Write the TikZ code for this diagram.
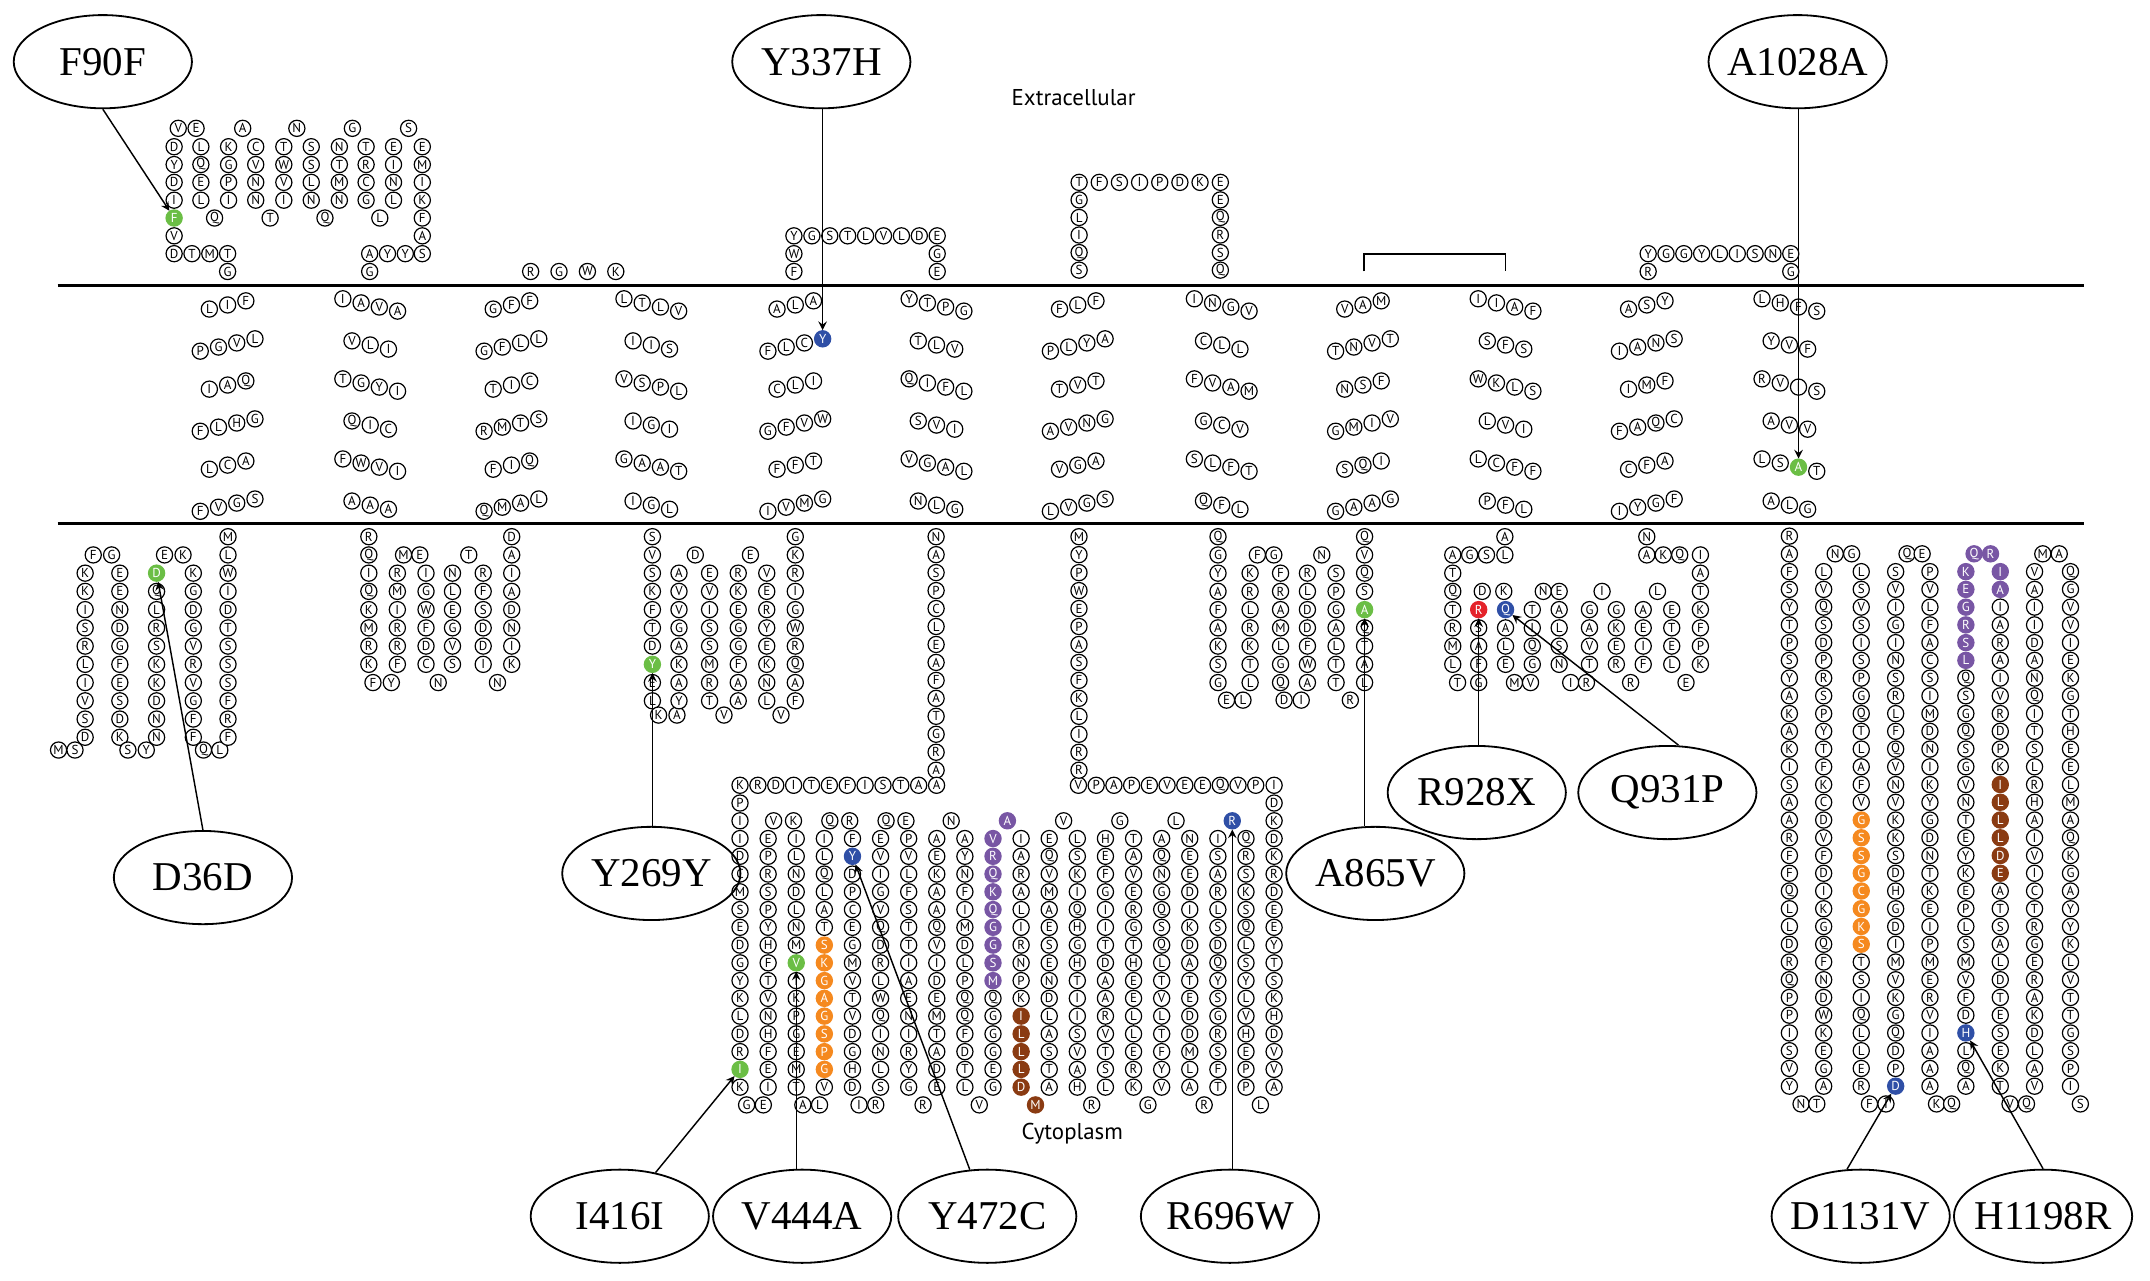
\documentclass[tikz,border=0pt]{standalone}
\usepackage{fontspec}
\setmainfont{Liberation Serif}
\setsansfont{PT Sans}
\usetikzlibrary{shapes.geometric,calc}
\definecolor{mgreen}{HTML}{6BBE45}
\definecolor{mblue}{HTML}{2F4FA6}
\definecolor{mred}{HTML}{E4232A}
\definecolor{morange}{HTML}{F5891F}
\definecolor{mpurple}{HTML}{7856A4}
\definecolor{mbrown}{HTML}{8A3B12}
\newcommand{\resfont}{\sffamily\fontsize{5.4}{5.4}\selectfont}
\newcount\tmn
% a line of residues: [style]{name}{x0}{y0}{dx}{dy}{letters}, "-" leaves a gap
\newcommand{\resline}[7][]{%
  \foreach \l [count=\i from 0] in {#7}{%
    \if\l-\else\node[res,#1] (#2-\i) at ({#3+\i*(#5)},{#4+\i*(#6)}) {\l};\fi}}
% one slanted row of a helix: {name}{centre x}{y}{slant}{letters}
\newcommand{\tmrow}[5]{%
  \global\tmn=0
  \foreach \l in {#5}{\global\advance\tmn by 1}%
  \pgfmathsetmacro\tmh{(\the\tmn-1)/2}%
  \resline{#1}{#2-\tmh*13.3}{#3-(#4)*\tmh*3}{13.3}{(#4)*3}{#5}}
\newcommand{\helix}[9]{%
  \tmrow{#1a}{#2}{222.4}{#3}{#4}\tmrow{#1b}{#2}{251.6}{#3}{#5}%
  \tmrow{#1c}{#2}{280.8}{#3}{#6}\tmrow{#1d}{#2}{310.0}{#3}{#7}%
  \tmrow{#1e}{#2}{339.2}{#3}{#8}\tmrow{#1f}{#2}{368.4}{#3}{#9}}
\begin{document}
\begin{tikzpicture}[x=0.02cm,y=-0.02cm,>=stealth,
    res/.style={circle,draw,line width=0.5pt,fill=white,inner sep=0pt,minimum size=0.236cm,font=\resfont},
    hl/.style={res,draw=#1,fill=#1,text=white},
    mut/.style={ellipse,draw,line width=0.75pt,minimum width=2.6cm,minimum height=1.36cm,
      inner xsep=-6pt,inner ysep=0pt,font=\fontsize{17}{17}\selectfont}]
  \useasboundingbox (0,0) rectangle (1568,934.2);
  % membrane
  \draw[line width=1.1pt] (42,208) -- (1520,208);
  \draw[line width=1.1pt] (42,382) -- (1520,382);
  \node[font=\sffamily\fontsize{9.5}{9.5}\selectfont] (extra) at (783,71) {Extracellular};
  \node[font=\sffamily\fontsize{9.5}{9.5}\selectfont] (cyto) at (782,827) {Cytoplasm};
  \draw[line width=0.7pt] (995,198) -- (995,185) -- (1098,185) -- (1098,198);
  % helices
  \helix{h1}{166}{-1}{L,I,F}{P,G,V,L}{I,A,Q}{F,L,H,G}{L,C,A}{F,V,G,S}
  \helix{h2}{270}{1}{I,A,V,A}{V,L,I}{T,G,Y,I}{Q,I,C}{F,W,V,I}{A,A,A}
  \helix{h3}{373}{-1}{G,F,F}{G,F,L,L}{T,I,C}{R,M,T,S}{F,I,Q}{Q,M,A,L}
  \helix{h4}{475}{1}{L,T,L,V}{I,I,S}{V,S,P,L}{I,G,I}{G,A,A,T}{I,G,L}
  \helix{h5}{580}{-1}{A,L,A}{F,L,C,-}{C,L,I}{G,F,V,W}{F,F,T}{I,V,M,G}
  \helix{h6}{683}{1}{Y,T,P,G}{T,L,V}{Q,I,F,L}{S,V,I}{V,G,A,L}{N,L,G}
  \helix{h7}{786}{-1}{F,L,F}{P,L,Y,A}{T,V,T}{A,V,N,G}{V,G,A}{L,V,G,S}
  \helix{h8}{891}{1}{I,N,G,V}{C,L,L}{F,V,A,M}{G,C,V}{S,L,F,T}{Q,F,L}
  \helix{h9}{994}{-1}{V,A,M}{T,N,V,T}{N,S,F}{G,M,I,V}{S,Q,I}{G,A,A,G}
  \helix{h10}{1098}{1}{I,I,A,F}{S,F,S}{W,K,L,S}{L,V,I}{L,C,F,F}{P,F,L}
  \helix{h11}{1201}{-1}{A,S,Y}{I,A,N,S}{I,M,F}{F,A,Q,C}{C,F,A}{I,Y,G,F}
  \helix{h12}{1305}{1}{L,H,F,S}{Y,V,F}{R,V,I,S}{A,V,V}{L,S,-,T}{A,L,G}
  \node[hl=mblue] (y337) at (599.95,247.1) {Y};
  \node[hl=mgreen] (a1028) at (1311.65,340.7) {A};
  % extracellular loops
  \resline{e1a}{127}{185}{13}{0}{D,T,M,T}
  \node[res] (e1b) at (166,198) {G};
  \resline{e1c}{127}{107}{0}{13}{D,Y,D,I,-,V}
  \node[hl=mgreen] (f90) at (127,159) {F};
  \resline{e1d}{130}{93.6}{13}{0}{V,E}
  \resline{e1e}{146.5}{107}{0}{13}{L,Q,E,L}
  \node[res] (e1f) at (156.5,159) {Q};
  \resline{e1g}{166.7}{107}{0}{13}{K,G,P,I}
  \node[res] (e1h) at (177,93.6) {A};
  \resline{e1i}{186.5}{107}{0}{13}{C,V,N,N}
  \node[res] (e1j) at (197,159) {T};
  \resline{e1k}{207}{107}{0}{13}{T,W,V,I}
  \node[res] (e1l) at (216.5,93.6) {N};
  \resline{e1m}{227}{107}{0}{13}{S,S,L,N}
  \node[res] (e1n) at (237,159) {Q};
  \resline{e1o}{247.5}{107}{0}{13}{N,T,M,N}
  \node[res] (e1p) at (257,93.6) {G};
  \resline{e1q}{267}{107}{0}{13}{T,R,C,G}
  \node[res] (e1r) at (277,159) {L};
  \resline{e1s}{287}{107}{0}{13}{E,I,N,L}
  \node[res] (e1t) at (298,93.6) {S};
  \resline{e1u}{308}{107}{0}{13}{E,M,I,K,F,A,S}
  \resline{e1v}{269.6}{185}{13}{0}{A,Y,Y}
  \node[res] (e1w) at (269.6,198) {G};
  \resline{e3}{387}{198}{20.7}{0}{R,G,W,K}
  \resline{e5a}{579}{172}{0}{13}{Y,W,F}
  \resline{e5b}{592.1}{172}{13.06}{0}{G,S,T,L,V,L,D}
  \resline{e5c}{683.5}{172}{0}{13}{E,G,E}
  \resline{e7a}{787}{133}{0}{12.8}{T,G,L,I,Q,S}
  \resline{e7b}{801.7}{133}{14.7}{0}{F,S,I,P,D,K}
  \resline{e7c}{890}{133}{0}{12.8}{E,E,Q,R,S,Q}
  \resline{e11a}{1202}{185}{0}{13}{Y,R}
  \resline{e11b}{1215}{185}{13}{0}{G,G,Y,L,I,S,N}
  \resline{e11c}{1306}{185}{0}{13}{E,G}
  % N-terminus
  \resline{n1}{42.7}{547}{12}{0}{M,S}
  \resline{n2}{62.1}{418}{0}{13.3}{K,K,I,S,R,L,I,V,S,D}
  \resline{n3}{68}{404.7}{13.4}{0}{F,G}
  \resline{n4}{87.4}{418}{0}{13.3}{E,E,N,D,G,F,E,S,D,K}
  \resline{n5}{93.3}{547}{13.4}{0}{S,Y}
  \resline{n6}{114.2}{418}{0}{13.3}{-,Q,L,R,S,K,K,D,N,N}
  \node[hl=mgreen] (d36) at (114.2,418) {D};
  \resline{n7}{120}{404.7}{13.5}{0}{E,K}
  \resline{n8}{141}{418}{0}{13.3}{K,G,D,G,V,R,V,G,F,F}
  \resline{n9}{148.4}{547}{11.9}{0}{Q,L}
  \resline{n10}{166.3}{391.4}{0}{13.3}{M,L,W,I,D,T,S,S,S,F,R,F}
  % cytoplasmic loop 2
  \resline{c2a}{269}{391.4}{0}{13.3}{R,Q,I,Q,K,M,R,K}
  \resline{c2b}{272}{497.8}{13.4}{0}{F,Y}
  \resline{c2c}{289.8}{418}{0}{13.3}{R,M,I,R,R,F}
  \resline{c2d}{294.3}{404.7}{11.9}{0}{M,E}
  \resline{c2e}{310.7}{418}{0}{13.3}{I,G,W,F,D,C}
  \node[res] (c2f) at (319.6,497.8) {N};
  \resline{c2g}{330}{418}{0}{13.3}{N,L,E,G,V,S}
  \node[res] (c2h) at (341.9,404.7) {T};
  \resline{c2i}{352.4}{418}{0}{13.3}{R,F,S,D,D,I}
  \node[res] (c2j) at (362.8,497.8) {N};
  \resline{c2k}{373.2}{391.4}{0}{13.3}{D,A,I,A,D,N,I,K}
  % cytoplasmic loop 4
  \resline{c4a}{475.8}{391.4}{0}{13.3}{S,V,S,K,F,T,D,-,E,L}
  \node[hl=mgreen] (y269) at (475.8,484.5) {Y};
  \resline{c4b}{480.3}{521.5}{13.4}{0}{K,A}
  \resline{c4c}{495.2}{418}{0}{13.3}{A,V,V,G,A,K,A,Y}
  \node[res] (c4d) at (507.1,404.7) {D};
  \resline{c4e}{517.5}{418}{0}{13.3}{E,V,I,S,S,M,R,T}
  \node[res] (c4f) at (528,521.5) {V};
  \resline{c4g}{538.4}{418}{0}{13.3}{R,K,E,G,G,F,A,A}
  \node[res] (c4h) at (547.3,404.7) {E};
  \resline{c4i}{559.2}{418}{0}{13.3}{V,E,R,Y,E,K,N,L}
  \node[res] (c4j) at (569.6,521.5) {V};
  \resline{c4k}{580}{391.4}{0}{13.3}{G,K,R,I,G,W,R,Q,A,F}
  % cytoplasmic loop 6
  \resline{c6a}{682.7}{391.4}{0}{13.1}{N,A,S,P,C,L,E,A,F,A,T,G,R,A}
  \resline{c6b}{539.7}{572.7}{13.03}{0}{K,R,D,I,T,E,F,I,S,T,A,A}
  \resline{c6c}{539.7}{585.65}{0}{12.95}{P,I,I,D,C,M,S,E,D,G,Y,K,L,D,R,-,K}
  \node[hl=mgreen] (i416) at (539.7,779.9) {I};
  \resline{b1}{560.2}{611.55}{0}{12.95}{E,P,R,S,P,Y,H,F,T,V,N,H,F,E,I}
  \resline{b2}{580.7}{611.55}{0}{12.95}{I,L,N,D,L,N,M,-,I,K,P,G,E,M,T}
  \node[hl=mgreen] (v444) at (580.7,702.2) {V};
  \resline{b3}{601.2}{611.55}{0}{12.95}{I,L,Q,L,A,T,-,-,-,-,-,-,-,-,V}
  \resline[hl=morange]{b3o}{601.2}{689.25}{0}{12.95}{S,K,G,A,G,S,P,G}
  \resline{b4}{621.7}{611.55}{0}{12.95}{F,-,D,P,C,E,G,M,V,T,V,D,G,H,D}
  \node[hl=mblue] (y472) at (621.7,624.5) {Y};
  \resline{b5}{642.2}{611.55}{0}{12.95}{E,V,I,G,V,Q,D,R,L,W,Q,I,N,L,S}
  \resline{b6}{662.7}{611.55}{0}{12.95}{P,V,L,F,S,T,T,I,A,E,N,I,R,Y,G}
  \resline{b7}{683.2}{611.55}{0}{12.95}{A,E,K,A,A,Q,V,I,D,E,M,T,A,D,E}
  \resline{b8}{703.7}{611.55}{0}{12.95}{A,Y,N,F,I,M,D,L,P,Q,Q,F,D,T,L}
  \resline[hl=mpurple]{b9p}{724.2}{611.55}{0}{12.95}{V,R,Q,K,Q,G,G,S,M}
  \resline{b9}{724.2}{611.55}{0}{12.95}{-,-,-,-,-,-,-,-,-,Q,G,G,G,E,G}
  \resline{b10}{744.7}{611.55}{0}{12.95}{I,A,R,A,L,I,R,N,P,K}
  \resline[hl=mbrown]{b10b}{744.7}{741.05}{0}{12.95}{I,L,L,L,D}
  \resline{b11}{765.2}{611.55}{0}{12.95}{E,Q,V,M,A,E,S,E,N,D,L,A,S,T,A}
  \resline{b12}{785.7}{611.55}{0}{12.95}{L,S,K,I,Q,H,G,H,T,I,I,S,V,A,H}
  \resline{b13}{806.2}{611.55}{0}{12.95}{H,E,F,G,I,I,T,D,A,A,R,V,T,S,L}
  \resline{b14}{826.7}{611.55}{0}{12.95}{T,A,V,E,R,G,T,H,E,E,L,L,E,R,K}
  \resline{b15}{847.2}{611.55}{0}{12.95}{A,Q,N,G,Q,S,Q,L,T,V,L,T,F,Y,V}
  \resline{b16}{867.7}{611.55}{0}{12.95}{N,E,E,D,I,K,D,A,T,E,D,D,M,L,A}
  \resline{b17}{888.2}{611.55}{0}{12.95}{I,S,A,R,L,S,D,Q,Y,S,G,R,S,F,T}
  \resline{b18}{908.7}{611.55}{0}{12.95}{Q,R,S,K,S,Q,L,S,Y,L,V,H,E,P,P}
  \resline{b19}{929.2}{572.7}{0}{12.95}{I,D,K,D,K,R,D,E,E,Y,T,S,K,H,D,V,V,A}
  \resline{c7b}{786.5}{572.7}{12.93}{0}{V,P,A,P,E,V,E,E,Q,V,P}
  \resline{c7a}{786.9}{391.4}{0}{13.1}{M,Y,P,W,E,P,A,S,F,K,L,I,R,R}
  \resline{t1}{564.2}{598.6}{14.5}{0}{V,K}
  \resline{t3}{605.2}{598.6}{14.5}{0}{Q,R}
  \resline{t5}{646.2}{598.6}{14.5}{0}{Q,E}
  \node[res] (t7) at (693.7,598.6) {N};
  \node[hl=mpurple] (t9) at (734.7,598.6) {A};
  \node[res] (t11) at (775.7,598.6) {V};
  \node[res] (t13) at (816.7,598.6) {G};
  \node[res] (t15) at (857.7,598.6) {L};
  \node[hl=mblue] (r696) at (898.7,598.6) {R};
  \resline{u0}{544.5}{805.8}{12.2}{0}{G,E}
  \resline{u2}{585.5}{805.8}{12.2}{0}{A,L}
  \resline{u4}{626.5}{805.8}{12.2}{0}{I,R}
  \node[res] (u6) at (673.2,805.8) {R};
  \node[res] (u8) at (714.2,805.8) {V};
  \node[hl=mbrown] (u10) at (755.2,805.8) {M};
  \node[res] (u12) at (796.2,805.8) {R};
  \node[res] (u14) at (837.2,805.8) {G};
  \node[res] (u16) at (878.2,805.8) {R};
  \node[res] (u18) at (919.2,805.8) {L};
  % cytoplasmic loop 8
  \resline{c8a}{888.3}{391.4}{0}{13.3}{Q,G,Y,A,F,A,K,S,G}
  \resline{c8b}{894.5}{510.6}{12}{0}{E,L}
  \resline{c8c}{911.7}{418}{0}{13.3}{K,R,L,R,K,T,L}
  \resline{c8d}{917}{404.7}{12}{0}{F,G}
  \resline{c8e}{933.9}{418}{0}{13.3}{F,R,A,M,L,G,Q}
  \resline{c8f}{936.5}{510.6}{12.5}{0}{D,I}
  \resline{c8g}{953.5}{418}{0}{13.3}{R,L,D,D,F,W,A}
  \node[res] (c8h) at (964,404.7) {N};
  \resline{c8i}{974.4}{418}{0}{13.3}{S,P,G,A,L,T,T}
  \node[res] (c8j) at (984.8,510.6) {R};
  \resline{c8k}{995.2}{391.4}{0}{13.3}{Q,V,Q,S,-,Q,T,A,L}
  \node[hl=mgreen] (a865) at (995.2,444.6) {A};
  % cytoplasmic loop 10
  \resline{c10a}{1097.5}{391.4}{0}{13.3}{A,L}
  \resline{c10b}{1059.5}{404.7}{12.3}{0}{A,G,S}
  \resline{c10c}{1059.5}{418}{0}{13.3}{T,Q,T,R,M,L}
  \resline{c10d}{1063}{497.8}{15.4}{0}{T,G}
  \resline{c10e}{1078.4}{444.6}{0}{13.3}{-,S,A,F}
  \node[hl=mred] (r928) at (1078.4,444.6) {R};
  \resline{c10f}{1081}{431.3}{15.7}{0}{D,K}
  \resline{c10g}{1098}{444.6}{0}{13.3}{-,A,L,E}
  \node[hl=mblue] (q931) at (1098,444.6) {Q};
  \resline{c10h}{1104.5}{497.8}{11.7}{0}{M,V}
  \resline{c10i}{1117.5}{444.6}{0}{13.3}{T,I,Q,G}
  \resline{c10j}{1125.5}{431.3}{11.6}{0}{N,E}
  \resline{c10k}{1137.1}{444.6}{0}{13.3}{A,L,S,N}
  \resline{c10l}{1145.5}{497.8}{11.5}{0}{I,R}
  \resline{c10m}{1159.2}{444.6}{0}{13.3}{G,A,V,T}
  \node[res] (c10n) at (1168.4,431.3) {I};
  \resline{c10o}{1178.8}{444.6}{0}{13.3}{G,K,E,R}
  \node[res] (c10p) at (1189.2,497.8) {R};
  \resline{c10q}{1198.4}{444.6}{0}{13.3}{A,E,I,F}
  \node[res] (c10r) at (1208.8,431.3) {L};
  \resline{c10s}{1219.2}{444.6}{0}{13.3}{E,T,E,L}
  \node[res] (c10t) at (1229.6,497.8) {E};
  \resline{c10u}{1240.1}{404.7}{0}{13.3}{I,A,T,K,F,P,K}
  \resline{c10v}{1201}{404.7}{12}{0}{A,K,Q}
  \node[res] (c10w) at (1201,391.4) {N};
  % C-terminus
  \resline{r1}{1305}{391}{0}{12.94}{R,A,F,S,Y,T,P,S,Y,A,K,A,K,I,S,A,A,R,F,F,Q,L,L,D,R,Q,P,P,I,S,V,Y}
  \resline{r1b}{1313.5}{805.1}{11.5}{0}{N,T}
  \resline{r2}{1330}{416.9}{0}{12.94}{L,V,Q,S,D,P,R,S,P,Y,T,F,K,C,D,V,F,D,I,K,G,Q,F,N,D,W,K,E,G,A}
  \resline{r2t}{1338.4}{403.9}{12}{0}{N,G}
  \resline{r3}{1357.4}{416.9}{0}{12.94}{L,S,V,S,I,S,P,G,Q,T,L,A,F,V,-,-,-,-,-,-,-,-,T,S,I,Q,L,L,E,R}
  \resline[hl=morange]{r3o}{1357.4}{598.04}{0}{12.94}{G,S,S,G,C,G,K,S}
  \resline{r3b}{1363.4}{805.1}{12}{0}{F,I}
  \resline{r4}{1382.5}{416.9}{0}{12.94}{S,V,I,G,I,N,S,R,L,F,Q,V,N,V,K,K,S,D,H,G,D,I,M,V,K,G,Q,D,P,-}
  \node[hl=mblue] (d1131) at (1382.5,792.1) {D};
  \resline{r4t}{1390.8}{403.9}{11}{0}{Q,E}
  \resline{r5}{1407.5}{416.9}{0}{12.94}{P,V,L,F,A,C,S,I,M,D,N,I,K,Y,G,D,N,T,K,E,I,P,M,E,R,V,I,A,A,A}
  \resline{r5b}{1412.3}{805.1}{11}{0}{K,Q}
  \resline[hl=mpurple]{r6p}{1433.7}{416.9}{0}{12.94}{K,E,G,R,S,L}
  \resline{r6}{1433.7}{494.52}{0}{12.94}{Q,S,G,Q,S,G,V,N,T,E,Y,K,E,P,L,S,M,V,F,D,-,L,Q,A}
  \node[hl=mblue] (h1198) at (1433.7,753.3) {H};
  \resline[hl=mpurple]{r6t}{1439.7}{403.9}{12}{0}{Q,R}
  \resline[hl=mpurple]{r7p}{1458.8}{416.9}{0}{12.94}{I,A}
  \resline{r7}{1458.8}{442.76}{0}{12.94}{I,A,R,A,I,V,R,D,P,K,-,-,-,-,-,-,A,T,S,A,L,D,T,E,S,E,K,T}
  \resline[hl=mbrown]{r7b}{1458.8}{572.16}{0}{12.94}{I,L,L,L,D,E}
  \resline{r7u}{1465.9}{805.1}{12}{0}{V,Q}
  \resline{r8}{1483.8}{416.9}{0}{12.94}{V,A,I,I,D,A,N,Q,I,T,S,L,R,H,A,I,V,I,C,T,R,G,E,R,A,K,D,L,A,V}
  \resline{r8t}{1489.8}{403.9}{12}{0}{M,A}
  \resline{r9}{1510}{416.9}{0}{12.94}{Q,G,V,V,I,E,K,G,T,H,E,E,L,M,A,Q,K,G,A,Y,Y,K,L,V,T,T,G,S,P,I}
  \node[res] (r9b) at (1517.2,805.1) {S};
  % mutation labels
  \node[mut] (F90F) at (75,45) {F90F};
  \node[mut] (Y337H) at (599,45) {Y337H};
  \node[mut] (A1028A) at (1311,45) {A1028A};
  \node[mut] (D36D) at (148,640) {D36D};
  \node[mut] (Y269Y) at (475,637) {Y269Y};
  \node[mut] (A865V) at (1003,637) {A865V};
  \node[mut] (R928X) at (1077,578) {R928X};
  \node[mut] (Q931P) at (1216,578) {Q931P};
  \node[mut] (I416I) at (452,887) {I416I};
  \node[mut] (V444A) at (585,887) {V444A};
  \node[mut] (Y472C) at (720,887) {Y472C};
  \node[mut] (R696W) at (897,887) {R696W};
  \node[mut] (D1131V) at (1357,887) {D1131V};
  \node[mut] (H1198R) at (1490,887) {H1198R};
  \draw[semithick,->] (F90F.south) -- (f90);
  \draw[semithick,->] (y337 |- Y337H.south) -- (y337);
  \draw[semithick,->] (a1028 |- A1028A.south) -- (a1028);
  \draw[semithick,->] (D36D.north) -- (d36);
  \draw[semithick,->] (y269 |- Y269Y.north) -- (y269);
  \draw[semithick,->] (a865 |- A865V.north) -- (a865);
  \draw[semithick,->] (r928 |- R928X.north) -- (r928);
  \draw[semithick,->] ($(Q931P.north)+(8,0)$) -- (q931);
  \draw[semithick,->] (I416I) -- (i416);
  \draw[semithick,->] (v444 |- V444A.north) -- (v444);
  \draw[semithick,->] (Y472C) -- (y472);
  \draw[semithick,->] (r696 |- R696W.north) -- (r696);
  \draw[semithick,->] ($(D1131V.north)+(-10,0.4)$) -- (d1131);
  \draw[semithick,->] (H1198R.north) -- (h1198);
\end{tikzpicture}
\end{document}
